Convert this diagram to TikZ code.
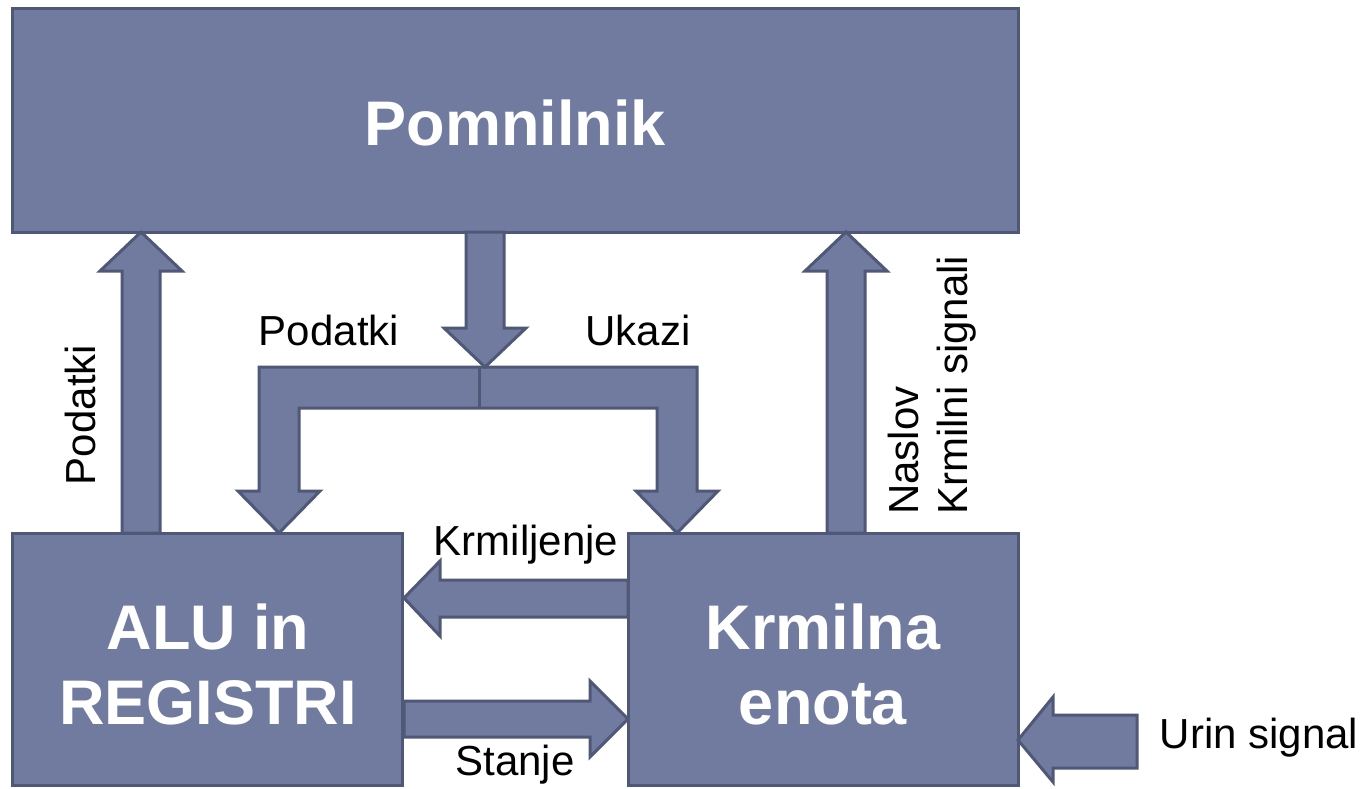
\documentclass[tikz,border=0pt]{standalone}
\usepackage{fontspec}
\setmainfont{Liberation Sans}
\definecolor{blockfill}{RGB}{113,123,160}
\definecolor{blockedge}{RGB}{80,88,120}
\begin{document}
\begin{tikzpicture}[x=1pt,y=-1pt,
  blk/.style={fill=blockfill,draw=blockedge,line width=3pt,line join=miter},
  bigtxt/.style={text=white,font=\fontsize{63}{75}\selectfont\bfseries,align=center},
  lbl/.style={font=\fontsize{42}{49}\selectfont,text=black,inner sep=0pt}]
\useasboundingbox (0,0) rectangle (1363,788);
% boxes
\draw[blk] (12,8) rectangle (1018,232);
\draw[blk] (12,533) rectangle (402,785);
\draw[blk] (628,533) rectangle (1018,785);
\node[bigtxt] (mem) at (515,123) {Pomnilnik};
\node[bigtxt] (alu) at (208,664) {ALU in\\REGISTRI};
\node[bigtxt] (cu) at (823,664) {Krmilna\\enota};
% bracket (Podatki / Ukazi)
\draw[blk] (259,367) -- (697,367) -- (697,491) -- (718,491) -- (677,533) -- (636,491) -- (657,491)
  -- (657,408) -- (299,408) -- (299,491) -- (320,491) -- (279,533) -- (238,491) -- (259,491) -- cycle;
\draw[blockedge,line width=3pt] (479,367) -- (479,408);
% down arrow from memory
\draw[blk] (466,232) -- (504,232) -- (504,328) -- (526,328) -- (485,367) -- (444,328) -- (466,328) -- cycle;
% up arrow left
\draw[blk] (122,533) -- (122,271) -- (100,271) -- (141,232) -- (182,271) -- (160,271) -- (160,533) -- cycle;
% up arrow right
\draw[blk] (827,533) -- (827,271) -- (805,271) -- (846,232) -- (887,271) -- (865,271) -- (865,533) -- cycle;
% Krmiljenje arrow
\draw[blk] (628,580) -- (440,580) -- (440,561) -- (404,598) -- (440,636) -- (440,617) -- (628,617) -- cycle;
% Stanje arrow
\draw[blk] (404,701) -- (590,701) -- (590,681) -- (628,719) -- (590,757) -- (590,737) -- (404,737) -- cycle;
% Urin signal arrow
\draw[blk] (1137,715) -- (1053,715) -- (1053,697) -- (1018,740) -- (1053,782) -- (1053,768) -- (1137,768) -- cycle;
% labels
\node[lbl,rotate=90] (l1) at (80,415) {Podatki};
\node[lbl] (l2) at (329,330) {Podatki};
\node[lbl] (l3) at (638,330) {Ukazi};
\node[lbl,rotate=90,anchor=north west,align=left] (l4) at (888,515) {Naslov\\Krmilni signali};
\node[lbl] (l5) at (526,545) {Krmiljenje};
\node[lbl] (l6) at (515,765) {Stanje};
\node[lbl] (l7) at (1259,738) {Urin signal};
\end{tikzpicture}
\end{document}
